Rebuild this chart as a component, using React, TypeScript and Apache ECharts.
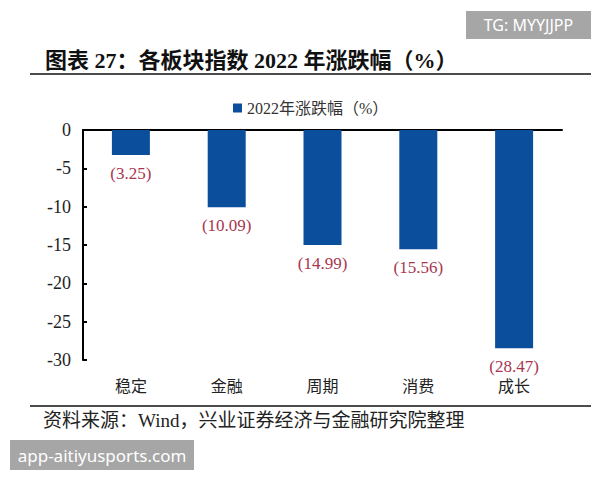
import React, { useEffect, useRef } from "react";
import * as echarts from "echarts";

const categories = ["稳定", "金融", "周期", "消费", "成长"];
const values = [-3.25, -10.09, -14.99, -15.56, -28.47];
const seriesName = "2022年涨跌幅（%）";
const titleText = "图表 27：各板块指数 2022 年涨跌幅（%）";
const sourceText = "资料来源：Wind，兴业证券经济与金融研究院整理";
const yMin = -30;
const yMax = 0;
const yInterval = 5;

const SERIF = "'Liberation Serif', 'Noto Sans CJK SC', serif";

export default function App() {
  const ref = useRef<HTMLDivElement>(null);
  useEffect(() => {
    if (!ref.current) return;
    const chart = echarts.init(ref.current, null, { renderer: "svg" });
    chart.setOption({
      animation: false,
      backgroundColor: "#ffffff",
      grid: { left: 83, right: 38, top: 130, bottom: 120 },
      legend: {
        data: [seriesName],
        left: 228,
        top: 95,
        icon: "rect",
        itemWidth: 9,
        itemHeight: 9,
        itemGap: 3,
        textStyle: { fontFamily: SERIF, fontSize: 16, color: "#333" },
      },
      xAxis: [
        {
          type: "category",
          data: categories,
          position: "bottom",
          axisLine: { show: false, onZero: false },
          axisTick: { show: false },
          axisLabel: { fontFamily: SERIF, fontSize: 16, color: "#222", margin: 18 },
        },
        {
          type: "category",
          data: categories,
          position: "top",
          axisLine: { show: true, onZero: false, lineStyle: { color: "#000", width: 2 } },
          axisTick: { show: false },
          axisLabel: { show: false },
        },
      ],
      yAxis: {
        type: "value",
        min: yMin,
        max: yMax,
        interval: yInterval,
        axisLine: { show: true, lineStyle: { color: "#000", width: 2 } },
        axisTick: { show: true, inside: true, length: 4, lineStyle: { color: "#000", width: 2 } },
        splitLine: { show: false },
        axisLabel: { fontFamily: SERIF, fontSize: 18, color: "#222", margin: 12 },
      },
      series: [
        {
          name: seriesName,
          type: "bar",
          data: values,
          barWidth: 38,
          itemStyle: { color: "#0b4e9c" },
          label: {
            show: true,
            position: "bottom",
            distance: 10,
            fontFamily: SERIF,
            fontSize: 17,
            color: "#a8364f",
            formatter: (p: any) => "(" + Math.abs(p.value).toFixed(2) + ")",
          },
        },
      ],
      graphic: [
        {
          type: "text",
          left: 45,
          top: 49,
          style: {
            text: titleText,
            fontFamily: SERIF,
            fontWeight: "bold",
            fontSize: 22,
            fill: "#111",
          },
        },
        {
          type: "line",
          shape: { x1: 30, y1: 74, x2: 591, y2: 74 },
          style: { stroke: "#111", lineWidth: 1.5 },
        },
        {
          type: "line",
          shape: { x1: 30, y1: 406, x2: 591, y2: 406 },
          style: { stroke: "#111", lineWidth: 1.5 },
        },
        {
          type: "text",
          left: 43,
          top: 411,
          style: {
            text: sourceText,
            fontFamily: SERIF,
            fontSize: 19,
            fill: "#222",
          },
        },
        {
          type: "rect",
          shape: { x: 466, y: 11, width: 125, height: 28 },
          style: { fill: "#a6a6a6" },
        },
        {
          type: "text",
          x: 528.5,
          y: 25,
          style: {
            text: "TG: MYYJJPP",
            fontFamily: "'Noto Sans', sans-serif",
            fontSize: 16,
            fill: "#ffffff",
            align: "center",
            verticalAlign: "middle",
          },
        },
        {
          type: "rect",
          shape: { x: 10, y: 440, width: 184, height: 30 },
          style: { fill: "#a6a6a6" },
        },
        {
          type: "text",
          x: 102,
          y: 455,
          style: {
            text: "app-aitiyusports.com",
            fontFamily: "'Noto Sans', sans-serif",
            fontSize: 17,
            fill: "#ffffff",
            align: "center",
            verticalAlign: "middle",
          },
        },
      ],
    });
    return () => chart.dispose();
  }, []);
  return (
    <div
      ref={ref}
      style={{ position: "absolute", left: 0, top: 0, width: 600, height: 480 }}
    />
  );
}
